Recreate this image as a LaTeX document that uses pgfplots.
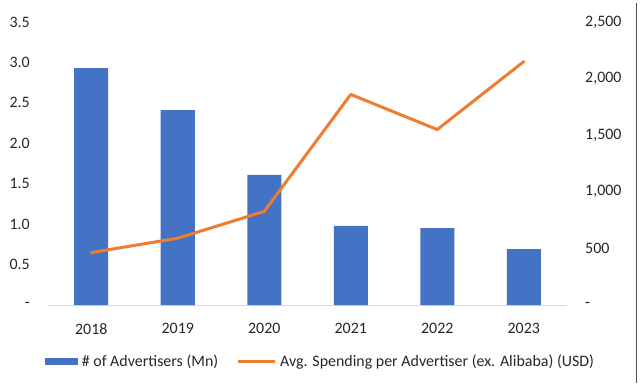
\documentclass[border=0pt]{standalone}
\usepackage{pgfplots}
\pgfplotsset{compat=1.18}
\usepackage{fontspec}
\setmainfont{Carlito}
\usetikzlibrary{calc}
\definecolor{barblue}{HTML}{4472C4}
\definecolor{lineorange}{HTML}{ED7D31}
\definecolor{txt}{HTML}{262626}
\definecolor{axgray}{HTML}{D9D9D9}
\definecolor{framegray}{HTML}{505050}

\begin{document}
\begin{tikzpicture}
\pgfplotsset{
  common/.style={
    scale only axis, width=519bp, height=283bp,
    xmin=-0.5, xmax=5.5,
    font=\fontsize{16}{19}\selectfont,
    tick label style={font=\fontsize{16}{19}\selectfont, text=txt, inner sep=0pt},
    major tick length=0pt,
    tick style={draw=none},
  }
}
\begin{axis}[common, name=main,
  ymin=0, ymax=3.5,
  ytick={0,0.5,1,1.5,2,2.5,3,3.5},
  yticklabels={-\hspace{7bp},0.5,1.0,1.5,2.0,2.5,3.0,3.5},
  xtick={0,1,2,3,4,5},
  xticklabels={2018,2019,2020,2021,2022,2023},
  separate axis lines,
  axis x line*=bottom,
  axis y line*=left,
  x axis line style={draw=axgray, line width=0.75bp, -},
  y axis line style={draw=none},
  xticklabel shift=18bp, yticklabel shift=18bp,
  ybar, bar width=34bp,
  legend columns=2,
  legend cell align=left,
  legend style={at={(0.523,-0.2)}, anchor=center, draw=none, fill=none,
    inner sep=0pt, font=\fontsize{16}{19}\selectfont, text=txt,
    nodes={inner sep=0pt},
    /tikz/every odd column/.append style={column sep=4bp},
    /tikz/every even column/.append style={column sep=18bp}},
]
\addplot[fill=barblue, draw=none,
  legend image code/.code={\fill[barblue] (0bp,-3.85bp) rectangle (33bp,3.85bp);}]
  coordinates {(0,2.93) (1,2.41) (2,1.61) (3,0.98) (4,0.95) (5,0.69)};
\addlegendentry{\# of Advertisers (Mn)}
\addlegendimage{legend image code/.code={\draw[lineorange, line width=3bp] (0bp,0bp) -- (37bp,0bp);}}
\addlegendentry{Avg. Spending per Advertiser (ex. Alibaba) (USD)}
\end{axis}

\begin{axis}[common,
  ymin=0, ymax=2500,
  ytick={0,500,1000,1500,2000,2500},
  yticklabels={-,500,{1,000},{1,500},{2,000},{2,500}},
  axis y line*=right,
  axis x line=none,
  y axis line style={draw=none},
  yticklabel shift=18bp,
  yticklabel style={anchor=west},
]
\addplot[lineorange, line width=3bp, mark=none, line join=round, line cap=round]
  coordinates {(0,463) (1,590) (2,827) (3,1860) (4,1550) (5,2150)};
\end{axis}

\path[use as bounding box] ($(main.south west)+(-48bp,-83bp)$) rectangle ($(main.north east)+(73bp,22bp)$);
\draw[framegray, line width=0.8bp] ($(main.north east)+(69.3bp,19bp)$) -- ($(main.south east)+(69.3bp,-78bp)$);
\end{tikzpicture}
\end{document}
